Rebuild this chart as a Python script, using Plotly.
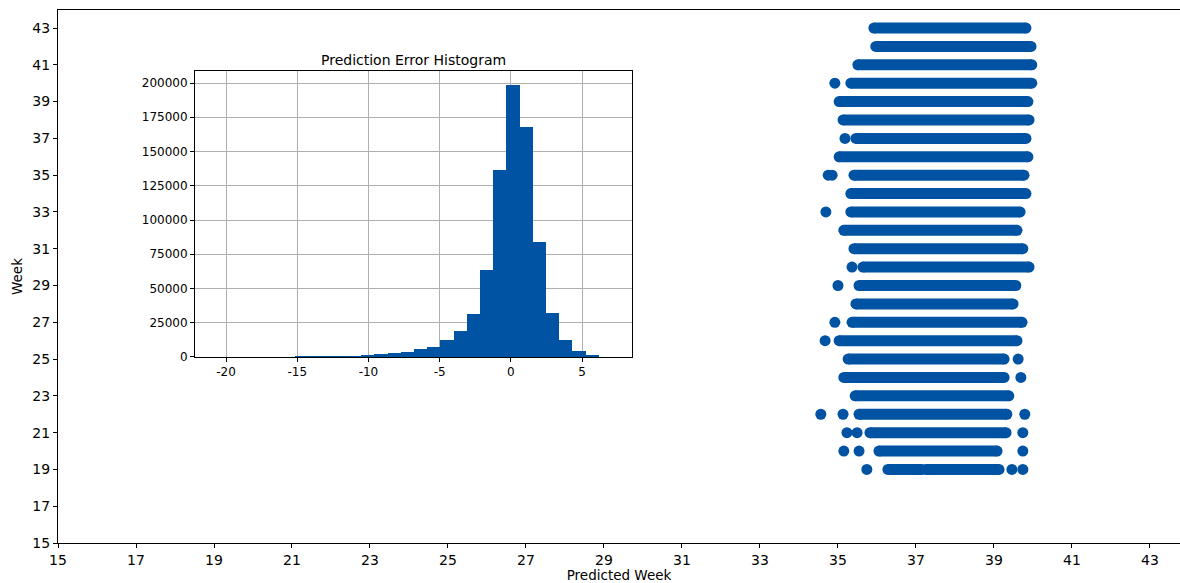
import numpy as np
import plotly.graph_objects as go

# ---- scatter data: dense bands (week, start, end) and isolated points ----
band_week = [43, 42, 41, 40, 39, 38, 37, 36, 35, 34, 33, 32, 31, 30, 29, 28, 27, 26, 25, 24, 23, 22, 21, 20, 19, 19]
band_start = [35.92, 35.97, 35.51, 35.33, 35.03, 35.13, 35.46, 35.03, 35.41, 35.33, 35.33, 35.15, 35.41, 35.64,
              35.54, 35.46, 35.36, 35.03, 35.26, 35.15, 35.44, 35.54, 35.82, 36.05, 36.28, 37.25]
band_end = [39.82, 39.95, 39.97, 39.97, 39.87, 39.90, 39.82, 39.87, 39.77, 39.82, 39.67, 39.59, 39.74, 39.90,
            39.56, 39.49, 39.72, 39.59, 39.26, 39.26, 39.38, 39.33, 39.31, 39.08, 37.15, 39.13]

out_week = [40, 37, 35, 35, 33, 30, 29, 27, 26, 25, 24, 22, 22, 22, 21, 21, 21, 20, 20, 20, 19, 19, 19]
out_pred = [34.92, 35.18, 34.75, 34.85, 34.69, 35.36, 35.00, 34.92, 34.67, 39.62, 39.69, 34.56, 35.13, 39.79,
            35.23, 35.49, 39.74, 35.15, 35.54, 39.74, 35.74, 39.46, 39.74]

# ---- histogram data ----
hist_min = -20.7
hist_max = 7.11
hist_counts = [0, 0, 0, 0, 0, 0, 800, 800, 850, 900, 900, 1600, 2000, 2700, 3900, 5800, 7500, 12400, 19000,
               31200, 63500, 136500, 198500, 168100, 83700, 32400, 12400, 4400, 1500, 0]

main_ticks = list(range(15, 44, 2))
hist_xticks = [-20, -15, -10, -5, 0, 5]
hist_xlabels = ["-20", "-15", "-10", "-5", "0", "5"]
hist_yticks = list(range(0, 200001, 25000))
hist_ylabels = [str(v) for v in hist_yticks]

COLOR = "#0052a2"
FONT = "DejaVu Sans"

fig = go.Figure()

# bands
bx, by = [], []
for w, s, e in zip(band_week, band_start, band_end):
    bx += [s, e, None]
    by += [w, w, None]
fig.add_trace(go.Scatter(x=bx, y=by, mode="lines+markers",
                         line=dict(color=COLOR, width=11),
                         marker=dict(color=COLOR, size=11),
                         showlegend=False, hoverinfo="skip"))
fig.add_trace(go.Scatter(x=out_pred, y=out_week, mode="markers",
                         marker=dict(color=COLOR, size=11),
                         showlegend=False))

# histogram bars
edges = np.linspace(hist_min, hist_max, len(hist_counts) + 1)
centers = (edges[:-1] + edges[1:]) / 2
widths = np.diff(edges)
fig.add_trace(go.Bar(x=centers, y=hist_counts, width=widths, marker=dict(color=COLOR, line=dict(width=0)),
                     xaxis="x2", yaxis="y2", showlegend=False))

axis_common = dict(showline=True, linecolor="black", linewidth=1, ticks="outside", ticklen=4,
                   tickcolor="black", zeroline=False, automargin=False)

fig.update_layout(
    width=1180, height=583,
    margin=dict(l=58, r=0, t=10, b=40),
    paper_bgcolor="white", plot_bgcolor="white",
    font=dict(family=FONT, color="black", size=14),
    bargap=0,
    xaxis=dict(range=[15, 43.77], tickvals=main_ticks, showgrid=False, mirror=True,
               tickfont=dict(size=14),
               title=dict(text="Predicted Week", font=dict(size=13.5), standoff=2), **axis_common),
    yaxis=dict(range=[15, 43.98], tickvals=main_ticks, showgrid=False, tickfont=dict(size=14),
               title=dict(text="Week", font=dict(size=13.5), standoff=6), **axis_common),
    xaxis2=dict(domain=[0.1221, 0.5116], anchor="y2", range=[-22.18, 8.51], tickvals=hist_xticks,
                ticktext=hist_xlabels,
                showgrid=True, gridcolor="#b0b0b0", gridwidth=1, mirror=True, layer="above traces",
                tickfont=dict(size=12), **axis_common),
    yaxis2=dict(domain=[0.349, 0.8856], anchor="x2", range=[0, 208800], tickvals=hist_yticks,
                ticktext=hist_ylabels,
                showgrid=True, gridcolor="#b0b0b0", gridwidth=1, mirror=True, layer="above traces",
                tickfont=dict(size=12), **axis_common),
    annotations=[dict(text="Prediction Error Histogram", x=(0.1221 + 0.5116) / 2, y=0.8856,
                      xref="paper", yref="paper", xanchor="center", yanchor="bottom", yshift=1,
                      showarrow=False, font=dict(size=14, family=FONT))],
    shapes=[dict(type="rect", xref="paper", yref="paper", x0=0.1221, x1=0.5116, y0=0.349, y1=0.8856,
                 fillcolor="white", line=dict(width=0), layer="below")],
)

fig.write_html("out.html", config={"displayModeBar": False},
               post_script="document.body.style.margin='0';document.body.style.overflow='hidden';")
